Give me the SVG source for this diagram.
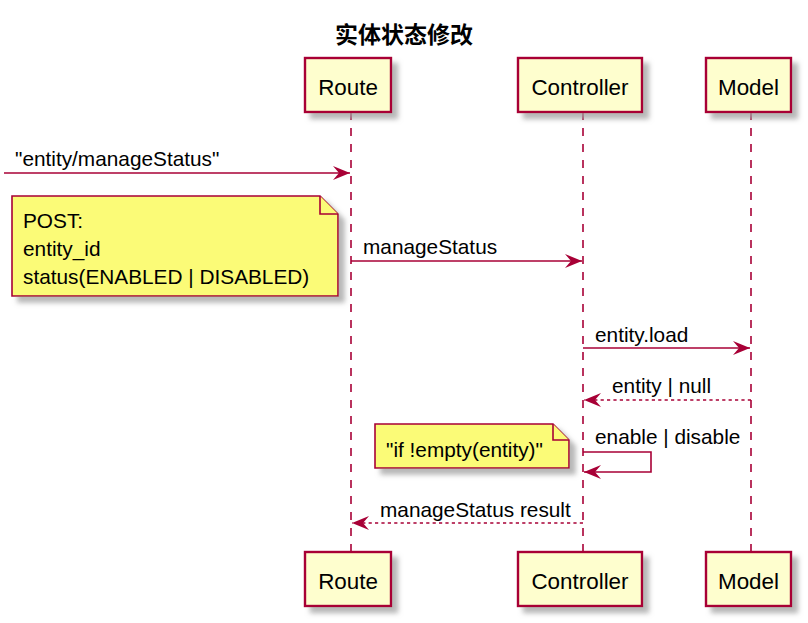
<svg xmlns="http://www.w3.org/2000/svg" width="808" height="623" viewBox="0 0 808 623">
<defs>
<filter id="sh" x="-20%" y="-20%" width="150%" height="150%">
<feGaussianBlur in="SourceAlpha" stdDeviation="2.5" result="b"/>
<feOffset in="b" dx="6" dy="6" result="o"/>
<feColorMatrix in="o" type="matrix" values="0 0 0 0 0.35  0 0 0 0 0.35  0 0 0 0 0.35  0 0 0 0.75 0" result="c"/>
<feMerge><feMergeNode in="c"/><feMergeNode in="SourceGraphic"/></feMerge>
</filter>
<marker id="ah" viewBox="0 0 17 14" refX="17" refY="7" markerWidth="17" markerHeight="14" markerUnits="userSpaceOnUse" orient="auto">
<polygon points="0,0 17,7 0,14 6,7" fill="#A80036"/>
</marker>
</defs>
<style>
.t{font-family:"Liberation Sans",Arial,sans-serif;fill:#000}
.p{font-size:22.4px}
.m{font-size:20.8px}
.box{fill:#FEFECE;stroke:#A80036;stroke-width:2.4}
.note{fill:#FBFB77;stroke:#A80036;stroke-width:1.6}
.life{stroke:#A80036;stroke-width:1.6;stroke-dasharray:8,8;fill:none}
.msg{stroke:#A80036;stroke-width:1.6;fill:none}
.dash{stroke-dasharray:3.2,3.2}
</style>
<text x="404" y="43" text-anchor="middle" style="font-family:'Noto Sans CJK SC',sans-serif;font-weight:bold;font-size:23px">实体状态修改</text>
<g id="lifelines">
<line class="life" x1="351" y1="112" x2="351" y2="552"/>
<line class="life" x1="583" y1="112" x2="583" y2="552"/>
<line class="life" x1="751" y1="112" x2="751" y2="552"/>
</g>
<g id="participant-route-top">
<rect class="box" x="305" y="58" width="86" height="54" filter="url(#sh)"/>
<text class="t p" x="348" y="95" text-anchor="middle">Route</text>
</g>
<g id="participant-controller-top">
<rect class="box" x="518" y="58" width="124" height="54" filter="url(#sh)"/>
<text class="t p" x="580" y="95" text-anchor="middle">Controller</text>
</g>
<g id="participant-model-top">
<rect class="box" x="706" y="58" width="85" height="54" filter="url(#sh)"/>
<text class="t p" x="748.5" y="95" text-anchor="middle">Model</text>
</g>
<g id="participant-route-bottom">
<rect class="box" x="305" y="552" width="86" height="54" filter="url(#sh)"/>
<text class="t p" x="348" y="589" text-anchor="middle">Route</text>
</g>
<g id="participant-controller-bottom">
<rect class="box" x="518" y="552" width="124" height="54" filter="url(#sh)"/>
<text class="t p" x="580" y="589" text-anchor="middle">Controller</text>
</g>
<g id="participant-model-bottom">
<rect class="box" x="706" y="552" width="85" height="54" filter="url(#sh)"/>
<text class="t p" x="748.5" y="589" text-anchor="middle">Model</text>
</g>
<g id="note-post">
<path class="note" d="M12,196 L320,196 L338,214 L338,296 L12,296 Z" filter="url(#sh)"/>
<path class="note" d="M320,196 L320,214 L338,214"/>
<text class="t m" x="23" y="228">POST:</text>
<text class="t m" x="23" y="256">entity_id</text>
<text class="t m" x="23" y="284">status(ENABLED | DISABLED)</text>
</g>
<g id="note-if">
<path class="note" d="M375,424 L553,424 L569,440 L569,468 L375,468 Z" filter="url(#sh)"/>
<path class="note" d="M553,424 L553,440 L569,440"/>
<text class="t m" x="386" y="457">"if !empty(entity)"</text>
</g>
<g id="connectors">
<line class="msg" x1="4" y1="173" x2="350" y2="173" marker-end="url(#ah)"/>
<text class="t m" x="15" y="166">"entity/manageStatus"</text>
<line class="msg" x1="351" y1="261" x2="582" y2="261" marker-end="url(#ah)"/>
<text class="t m" x="363" y="254">manageStatus</text>
<line class="msg" x1="583" y1="348" x2="750" y2="348" marker-end="url(#ah)"/>
<text class="t m" x="595" y="342">entity.load</text>
<line class="msg dash" x1="751" y1="400" x2="584" y2="400" marker-end="url(#ah)"/>
<text class="t m" x="612" y="393">entity | null</text>
<polyline class="msg" points="583,452 651,452 651,472 584,472" marker-end="url(#ah)"/>
<text class="t m" x="595" y="444">enable | disable</text>
<line class="msg dash" x1="583" y1="523" x2="352" y2="523" marker-end="url(#ah)"/>
<text class="t m" x="380" y="517">manageStatus result</text>
</g>
</svg>
